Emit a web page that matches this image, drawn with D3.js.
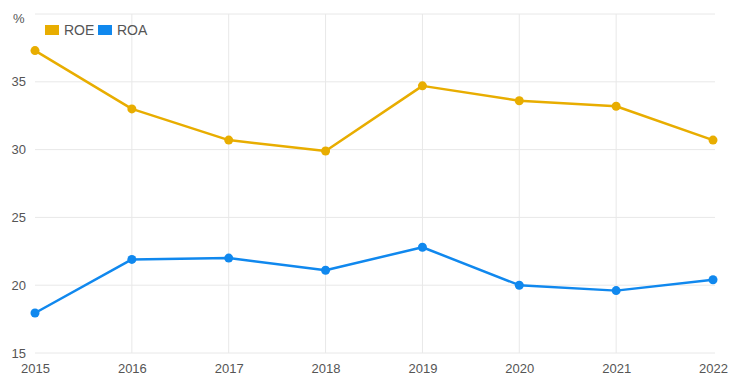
<!DOCTYPE html>
<html lang="en">
<head>
    <meta charset="UTF-8">
    <title>ROE / ROA</title>
    <script src="https://d3js.org/d3.v7.min.js"></script>
    <style>
        body { margin: 0; background: #fff; }
        svg text { font-family: "Liberation Sans", Arial, sans-serif; fill: #555; }
        .grid line { stroke: #e8e8e8; stroke-width: 1; }
    </style>
</head>
<body>
    <svg id="chart"></svg>
    <script>
        // Data
        const years = ["2015", "2016", "2017", "2018", "2019", "2020", "2021", "2022"];
        const roe = [37.3, 33.0, 30.7, 29.9, 34.7, 33.6, 33.2, 30.7];
        const roa = [17.95, 21.9, 22.0, 21.1, 22.8, 20.0, 19.6, 20.4];
        const yTicks = [15, 20, 25, 30, 35, 40];
        const yTickLabels = ["15", "20", "25", "30", "35", ""];

        const series = [
            { name: "ROE", color: "#e8ad00", values: roe },
            { name: "ROA", color: "#1088ee", values: roa }
        ];

        const W = 740, H = 387;
        const svg = d3.select("#chart").attr("width", W).attr("height", H);

        const x = d3.scalePoint().domain(years).range([35, 713]);
        const y = d3.scaleLinear().domain([15, 40]).range([353, 14]);

        // horizontal grid
        const grid = svg.append("g").attr("class", "grid");
        grid.selectAll(".h")
            .data(yTicks)
            .enter().append("line")
            .attr("x1", 35).attr("x2", 715)
            .attr("y1", d => y(d)).attr("y2", d => y(d));

        // vertical grid (inner years only)
        grid.selectAll(".v")
            .data(years.slice(1, -1))
            .enter().append("line")
            .attr("x1", d => x(d)).attr("x2", d => x(d))
            .attr("y1", y(40)).attr("y2", y(15));

        // y labels
        svg.append("g")
            .attr("transform", "translate(26,0)")
            .call(d3.axisLeft(y).tickValues(yTicks).tickSize(0).tickPadding(0)
                .tickFormat((d, i) => yTickLabels[i]))
            .call(g => g.select(".domain").remove())
            .selectAll("text")
            .style("font-size", "13px")
            .attr("fill", "#555");

        // x labels
        svg.append("g")
            .attr("transform", `translate(0,${y(15) + 11})`)
            .call(d3.axisBottom(x).tickSize(0).tickPadding(0))
            .call(g => g.select(".domain").remove())
            .selectAll("text")
            .style("font-size", "13px")
            .attr("fill", "#555");

        // unit label
        svg.append("text")
            .attr("x", 13).attr("y", 23)
            .style("font-size", "13px")
            .text("%");

        // lines + points
        const line = d3.line()
            .x((d, i) => x(years[i]))
            .y(d => y(d));

        series.forEach(s => {
            svg.append("path")
                .datum(s.values)
                .attr("fill", "none")
                .attr("stroke", s.color)
                .attr("stroke-width", 2.5)
                .attr("stroke-linejoin", "round")
                .attr("d", line);

            svg.selectAll(".pt-" + s.name)
                .data(s.values)
                .enter().append("circle")
                .attr("cx", (d, i) => x(years[i]))
                .attr("cy", d => y(d))
                .attr("r", 4.5)
                .attr("fill", s.color);
        });

        // legend
        const legend = svg.append("g").attr("transform", "translate(45,25)");
        const legendX = [0, 53];
        series.forEach((s, i) => {
            const g = legend.append("g").attr("transform", `translate(${legendX[i]},0)`);
            g.append("rect").attr("width", 14).attr("height", 10).attr("fill", s.color);
            g.append("text")
                .attr("x", 19).attr("y", 10)
                .style("font-size", "14px")
                .text(s.name);
        });
    </script>
</body>
</html>
